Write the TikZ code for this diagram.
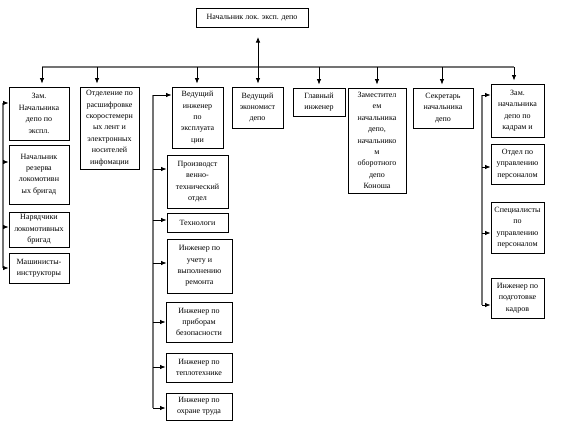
\documentclass[tikz,border=0pt]{standalone}
\usepackage{fontspec}
\setmainfont{Liberation Serif}
\usetikzlibrary{arrows.meta,calc}
\newcommand{\boxfont}{\fontsize{8}{11.4}\selectfont}

\begin{document}
\begin{tikzpicture}[x=1pt,y=-1pt,>={Latex[length=5.5pt,width=4.5pt]},line join=miter]
\useasboundingbox (0,0) rectangle (564,426);
\tikzset{box/.style={draw=black,line width=0.9pt,inner sep=0.5pt,align=center,font=\boxfont},
  link/.style={draw=black,line width=0.8pt},
  bus/.style={draw=black!55,line width=1.2pt}}
% руководство
\node[box,minimum width=112pt,minimum height=19pt] (chief) at (252,17.5) {Начальник лок. эксп. депо};
% первый ряд
\node[box,minimum width=60pt,minimum height=53pt] (zam1) at (39,113.5) {Зам.\\Начальника\\депо по\\экспл.};
\node[box,minimum width=59pt,minimum height=82pt] (otdel) at (109.5,128) {Отделение по\\расшифровке\\скоростемерн\\ых лент и\\электронных\\носителей\\инфомации};
\node[box,minimum width=51pt,minimum height=61pt] (vedinzh) at (197.5,117.5) {Ведущий\\инженер\\по\\эксплуата\\ции};
\node[box,minimum width=51pt,minimum height=41pt] (ekon) at (257.5,107.5) {Ведущий\\экономист\\депо};
\node[box,minimum width=52pt,minimum height=28pt] (glavn) at (319,102) {Главный\\инженер};
\node[box,minimum width=58pt,minimum height=105pt] (zamest) at (377,140.5) {Заместител\\ем\\начальника\\депо,\\начальнико\\м\\оборотного\\депо\\Коноша};
\node[box,minimum width=60pt,minimum height=40pt] (sekr) at (443,108) {Секретарь\\начальника\\депо};
\node[box,minimum width=53pt,minimum height=53pt] (zamk) at (517.5,110.5) {Зам.\\начальника\\депо по\\кадрам и};
% левая колонка
\node[box,minimum width=60pt,minimum height=59pt] (rezerv) at (39,174.5) {Начальник\\резерва\\локомотивн\\ых бригад};
\node[box,minimum width=60pt,minimum height=35pt] (naryad) at (39,229.5) {Нарядчики\\локомотивных\\бригад};
\node[box,minimum width=60pt,minimum height=30pt] (mash) at (39,268) {Машинисты-\\инструкторы};
% средняя колонка
\node[box,minimum width=61pt,minimum height=53pt] (proizv) at (197.5,181.5) {Производст\\венно-\\технический\\отдел};
\node[box,minimum width=61pt,minimum height=19pt] (tech) at (197.5,222.5) {Технологи};
\node[box,minimum width=65pt,minimum height=54pt] (uchet) at (199.5,266) {Инженер по\\учету и\\выполнению\\ремонта};
\node[box,minimum width=66pt,minimum height=40pt] (prib) at (199,322) {Инженер по\\приборам\\безопасности};
\node[box,minimum width=66pt,minimum height=29pt] (tepl) at (199,367.5) {Инженер по\\теплотехнике};
\node[box,minimum width=66pt,minimum height=27pt] (ohr) at (199,406.5) {Инженер по\\охране труда};
% правая колонка
\node[box,minimum width=53pt,minimum height=40pt] (otdk) at (517.5,164) {Отдел по\\управлению\\персоналом};
\node[box,minimum width=53pt,minimum height=51pt] (spec) at (517.5,227.5) {Специалисты\\по\\управлению\\персоналом};
\node[box,minimum width=53pt,minimum height=40pt] (podg) at (517.5,298) {Инженер по\\подготовке\\кадров};

% связи
\coordinate (busL) at (42,67);
\coordinate (busR) at (514,67);
\coordinate (chiefout) at (258,37);
\draw[bus,line width=1.6pt] (busL) -- (busR);
\foreach \n/\x in {zam1/42,otdel/97,vedinzh/197,glavn/319,zamest/377,sekr/442,zamk/514}
  \draw[link,->,shorten >=3pt] (\x,67) -- (\x,67 |- \n.north);
\draw[link,<->,shorten >=3pt] (chiefout) -- (chiefout |- ekon.north);
% шины подчинения
\draw[bus] (3,103) -- (3,268);
\foreach \n/\y in {zam1/103,rezerv/162,naryad/227,mash/268}
  \draw[link,->] (3,\y) -- (3,\y -| \n.west);
\draw[bus] (153,95) -- (153,408);
\foreach \n/\y in {vedinzh/95,proizv/169,tech/220,uchet/263,prib/322,tepl/367,ohr/408}
  \draw[link,->] (153,\y) -- (153,\y -| \n.west);
\draw[bus] (482,95) -- (482,305);
\foreach \n/\y in {zamk/95,otdk/167,spec/233,podg/305}
  \draw[link,->] (482,\y) -- (482,\y -| \n.west);
\end{tikzpicture}
\end{document}
